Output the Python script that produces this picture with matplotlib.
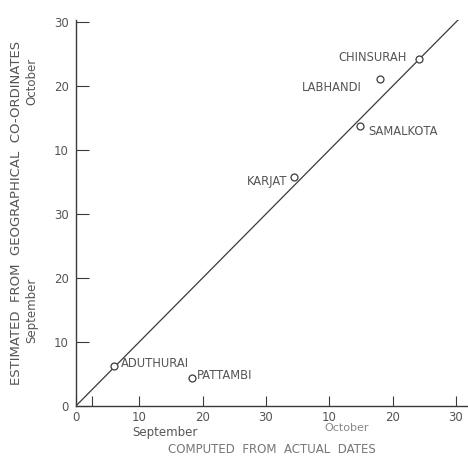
import matplotlib.pyplot as plt

# Datos (días contados desde el 1 de septiembre)
estaciones = ["CHINSURAH", "LABHANDI", "SAMALKOTA", "KARJAT", "ADUTHURAI", "PATTAMBI"]
computado = [54.2, 48.0, 44.8, 34.5, 6.0, 18.3]    # eje x
estimado = [54.2, 51.1, 43.7, 35.8, 6.2, 4.4]      # eje y
etiquetas_ticks = ["0", "10", "20", "30", "10", "20", "30"]
pos_ticks = [0, 10, 20, 30, 40, 50, 60]

# desplazamientos de etiquetas (puntos) y alineación
offsets = [(-9, 1), (-13, -6), (6, -4), (-5, -3), (5, 2), (4, 2)]
alineacion = ["right", "right", "left", "right", "left", "left"]

tinta = "#3a3a3a"
texto = "#555555"

fig = plt.figure(figsize=(4.68, 4.58), dpi=100)
ax = fig.add_axes([0.162, 0.1135, 0.838, 0.8425])

ax.plot([0, 61], [0, 61], color=tinta, lw=0.9)
ax.plot(computado, estimado, "o", mfc="white", mec=tinta, ms=5, mew=0.9)

for nom, x, y, off, ha in zip(estaciones, computado, estimado, offsets, alineacion):
    ax.annotate(nom, (x, y), xytext=off, textcoords="offset points",
                ha=ha, va="center", fontsize=8.3, color=texto)

ax.set_xlim(0, 61.9)
ax.set_ylim(0, 60.3)
for s in ["top", "right"]:
    ax.spines[s].set_visible(False)
for s in ["left", "bottom"]:
    ax.spines[s].set_color(tinta)
    ax.spines[s].set_linewidth(1.0)

ax.set_xticks(pos_ticks)
ax.set_xticklabels(etiquetas_ticks)
ax.set_yticks(pos_ticks)
ax.set_yticklabels(etiquetas_ticks)
ax.set_xticks([2.5], minor=True)
ax.tick_params(axis="both", which="both", direction="in", length=7, width=0.8,
               color=tinta, labelcolor=texto, labelsize=8.5)
ax.tick_params(axis="y", length=9, pad=5)

ax.text(14, -3.2, "September", ha="center", va="top", fontsize=8.5, color=texto)
ax.text(42.8, -2.6, "October", ha="center", va="top", fontsize=8, color="#888888")
fig.text(0.58, 0.005, "COMPUTED  FROM  ACTUAL  DATES", ha="center", va="bottom",
         fontsize=8.5, color="#777777")

fig.text(0.036, 0.535, "ESTIMATED  FROM  GEOGRAPHICAL  CO-ORDINATES", rotation=90,
         ha="center", va="center", fontsize=9.5, color=texto)
ax.text(-6.9, 15, "September", rotation=90, ha="center", va="center",
        fontsize=8.5, color=texto)
ax.text(-6.9, 50.7, "October", rotation=90, ha="center", va="center",
        fontsize=8.5, color=texto)

fig.savefig("out.png", dpi=100)
